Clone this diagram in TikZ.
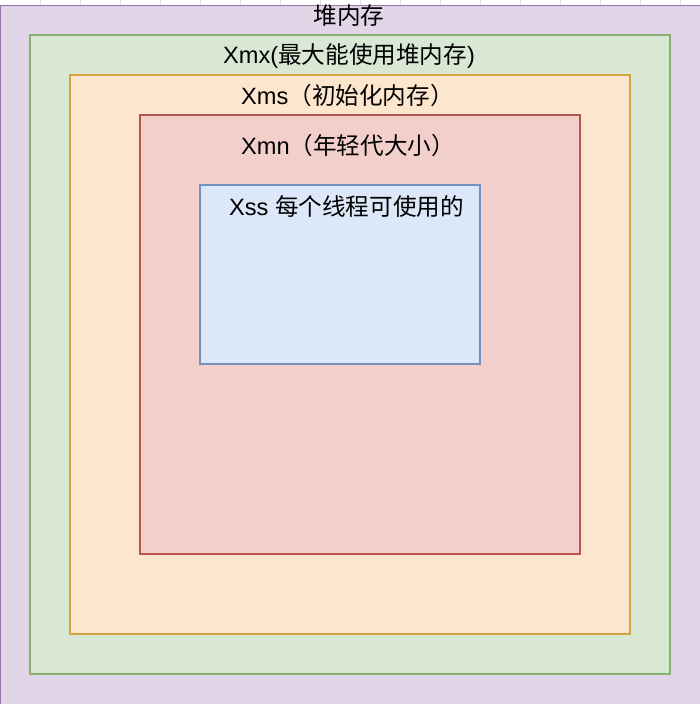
\documentclass[tikz,border=0pt]{standalone}
\usepackage{fontspec}
\setmainfont{Liberation Sans}
\newfontfamily\cjk{Noto Sans CJK SC}
\definecolor{pfill}{HTML}{E1D5E7}\definecolor{pdraw}{HTML}{9673A6}
\definecolor{gfill}{HTML}{D9E8D5}\definecolor{gdraw}{HTML}{88B070}
\definecolor{ofill}{HTML}{FCE6CD}\definecolor{odraw}{HTML}{D4A43C}
\definecolor{rfill}{HTML}{F3CFCC}\definecolor{rdraw}{HTML}{B85450}
\definecolor{bfill}{HTML}{DCE7F9}\definecolor{bdraw}{HTML}{7290C0}
\tikzset{
  box/.style={line width=1.3pt},
  lbl/.style={inner sep=0pt, font=\fontsize{23.6}{28}\selectfont, text=black},
}
\begin{document}
\begin{tikzpicture}[x=1pt,y=-1pt]
\useasboundingbox (0,0) rectangle (700,704);
\fill[white] (0,0) rectangle (700,704);
\foreach \x in {40,80,...,680} \draw[black!12,line width=0.5pt] (\x,0) -- (\x,5);
\path[box,fill=pfill,draw=pdraw] (0.6,5.5) rectangle (712,712);
\path[box,fill=gfill,draw=gdraw] (30,35) rectangle (670,674);
\path[box,fill=ofill,draw=odraw] (70,75) rectangle (630,634);
\path[box,fill=rfill,draw=rdraw] (140,115) rectangle (580,554);
\path[box,fill=bfill,draw=bdraw] (200,185) rectangle (480,364);
\node[lbl] (t1) at (349,16) {\cjk 堆内存};
\node[lbl] (t2) at (349,56) {Xmx({\cjk 最大能使用堆内存})};
\node[lbl,anchor=west] (t3) at (241,96) {Xms{\cjk （初始化内存）}};
\node[lbl,anchor=west] (t4) at (241,146) {Xmn{\cjk （年轻代大小）}};
\node[lbl,anchor=west] (t5) at (229,207) {Xss {\cjk 每个线程可使用的}};
\end{tikzpicture}
\end{document}
